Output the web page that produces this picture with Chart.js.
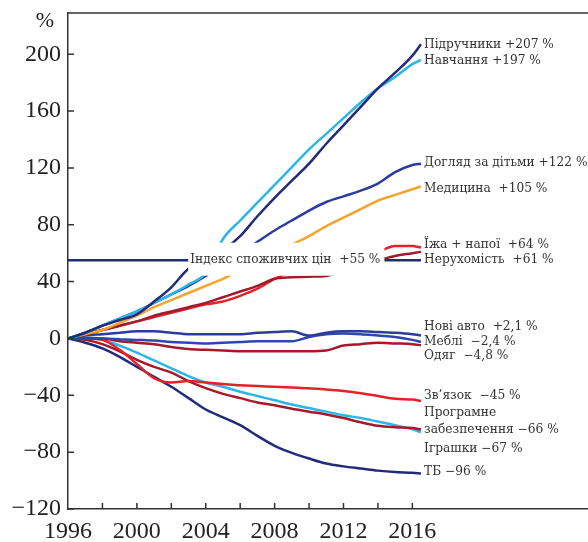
<!DOCTYPE html>
<html><head><meta charset="utf-8">
<script src="https://cdn.jsdelivr.net/npm/chart.js@4/dist/chart.umd.min.js"></script>
<style>html,body{margin:0;padding:0;background:#fff;}#wrap{width:588px;height:542px;position:relative}</style>
</head><body><div id="wrap"><canvas id="c" width="588" height="542"></canvas></div>
<script>
// ---- data ----
const years = [1996,1997,1998,1999,2000,2001,2002,2003,2004,2005,2006,2007,2008,2009,2010,2011,2012,2013,2014,2015,2016,2016.5];
const textbooks = [0,4,9,13,17,26,36,49,55,62,72,86,99,111,123,137,150,163,176,187,199,207];
const tuition   = [0,4,9,14,19,25,31,38,46,70,83,95.5,108,120.5,133,144,155,166,176,184,193,196];
const childcare = [0,4,9,14,19,25,31,37,44,52,60,68,76,83,90,96,100,104,109,117,122,123];
const medical   = [0,3,6,11,16,22,27,32,37,42,48,54,60,66,72,79,85,91,97,101,105,107];
const food      = [0,3,6,9,12,15,18,21,24,26,30,35,42,47,50,54,57,59,61,65,65,64];
const housing   = [0,3,6,9,12,16,19,22,25,29,33,37,42,43,43.5,44,48,52,55,58,60,61];
const cpi       = [55,55,55,55,55,55,55,55,55,55,55,55,55,55,55,55,55,55,55,55,55,55];
const newCars   = [0,2,3,4,5,5,4,3,3,3,3,4,4.5,5,2,4,5,5,4.5,4,3,2.1];
const furniture = [0,0.5,0,-0.5,-1,-1.5,-2.5,-3,-3.5,-3,-2.5,-2,-2,-2,1,3,3.5,3,2,1,-1,-2.4];
const clothing  = [0,0,0,-2,-3,-4,-6,-7.5,-8,-8.5,-9,-9,-9,-9,-9,-8.5,-5,-4,-3,-3.5,-4,-4.8];
const telecom   = [0,0,-1,-8,-18,-28,-31,-30,-31,-32,-33,-33.5,-34,-34.5,-35,-36,-37,-38.5,-40.5,-42.5,-43,-44];
const software  = [0,-1,-4,-9,-15,-20,-24,-30,-35,-39,-42,-45,-47,-49.5,-51.5,-53.5,-56,-59,-61.5,-62.5,-63,-64];
const toys      = [0,0,-1,-5,-10,-15.5,-21,-26.5,-31,-34,-37.5,-40.5,-43.5,-46.5,-49,-51.5,-54,-56,-58.5,-61,-64,-66];
const tv        = [0,-3,-7,-13,-20,-27,-34,-42,-50,-55.5,-61,-68.5,-75.5,-80.5,-84.5,-88,-90,-91.5,-93,-94,-94.5,-95];

const labelTexts = ["Підручники +207 %","Навчання +197 %","Догляд за дітьми +122 %","Медицина  +105 %","Їжа + напої  +64 %","Нерухомість  +61 %","Нові авто  +2,1 %","Меблі  −2,4 %","Одяг  −4,8 %","Зв’язок  −45 %","Програмне","забезпечення −66 %","Іграшки −67 %","ТБ −96 %"];
const labelValues = [206.3,195.3,123.7,105.3,66,55.4,7.9,-2.6,-11.9,-40.5,-52.6,-64.6,-77.4,-94];
const labelYear = 2016.68;
const cpiLabel = "Індекс споживчих цін  +55 %";
const cpiLabelYear = 2003.1;
const cpiLabelValue = 55.4;

const yTicks = [-120,-80,-40,0,40,80,120,160,200];
const xTickLabels = [1996,2000,2004,2008,2012,2016];
const xMinorTicks = [1998,2000,2002,2004,2006,2008,2010,2012,2014,2016];

// ---- styles ----
const NAVY='#222a7c', BLUE='#2b3c9e', CYAN='#2cb5e6', ORANGE='#f2a52c', RED='#e3232a', MAROON='#a31a2c';
const seriesDefs = [
  [cpi,NAVY],[textbooks,NAVY],[tuition,CYAN],[childcare,BLUE],[medical,ORANGE],
  [housing,MAROON],[food,RED],[newCars,BLUE],[furniture,'#2f45b0'],[clothing,MAROON],
  [telecom,RED],[software,MAROON],[toys,CYAN],[tv,NAVY]
];
const LABEL_FONT='12.2px "DejaVu Serif"';

const labelsPlugin = {
  id:'labelsPlugin',
  afterDatasetsDraw(chart){
    const ctx=chart.ctx, xs=chart.scales.x, ys=chart.scales.y, a=chart.chartArea;
    ctx.save();
    ctx.strokeStyle='#333'; ctx.lineWidth=1.5;
    ctx.beginPath(); ctx.moveTo(a.left,a.top); ctx.lineTo(a.right,a.top); ctx.stroke();
    ctx.beginPath();
    yTicks.forEach(v=>{const y=ys.getPixelForValue(v); ctx.moveTo(a.left,y); ctx.lineTo(a.left+6,y);});
    xMinorTicks.forEach(v=>{const x=xs.getPixelForValue(v); ctx.moveTo(x,a.bottom); ctx.lineTo(x,a.bottom-6);});
    ctx.stroke();
    ctx.font=LABEL_FONT;
    ctx.textBaseline='middle';
    const cx=xs.getPixelForValue(cpiLabelYear), cy=ys.getPixelForValue(cpiLabelValue);
    const w=ctx.measureText(cpiLabel).width;
    ctx.fillStyle='#fff';
    ctx.fillRect(cx-2,cy-17,w+6,33);
    ctx.fillStyle='#333';
    ctx.fillText(cpiLabel,cx,cy);
    const lx=xs.getPixelForValue(labelYear);
    labelTexts.forEach((t,i)=>{ctx.fillText(t,lx,ys.getPixelForValue(labelValues[i]));});
    ctx.font='22px "Liberation Serif"';
    ctx.textAlign='right';
    ctx.fillStyle='#222';
    ctx.fillText('%',54,21);
    ctx.restore();
  }
};

new Chart(document.getElementById('c'),{
  type:'line',
  data:{datasets:seriesDefs.map(([arr,col])=>({
    data:years.map((x,i)=>({x:x,y:arr[i]})),
    borderColor:col,borderWidth:2.5,pointRadius:0,cubicInterpolationMode:'monotone',fill:false
  }))},
  options:{
    responsive:false,devicePixelRatio:1,animation:false,
    layout:{padding:{top:13,right:0,left:0,bottom:0}},
    plugins:{legend:{display:false},tooltip:{enabled:false}},
    scales:{
      x:{type:'linear',min:1996,max:2026.2,
        afterBuildTicks:s=>{s.ticks=xTickLabels.map(v=>({value:v}));},
        afterFit:s=>{s.height=33;s.paddingLeft=0;s.paddingRight=0;},
        grid:{display:false,drawTicks:false},
        border:{display:true,color:'#333',width:1.5},
        ticks:{font:{family:'Liberation Serif',size:24},color:'#222',padding:8,maxRotation:0,autoSkip:false,
          callback:v=>String(v)}},
      y:{type:'linear',min:-120,max:229,
        afterBuildTicks:s=>{s.ticks=yTicks.map(v=>({value:v}));},
        afterFit:s=>{s.width=68;s.paddingTop=0;s.paddingBottom=0;},
        grid:{display:false,drawTicks:false},
        border:{display:true,color:'#333',width:1.5},
        ticks:{font:{family:'Liberation Serif',size:24},color:'#222',padding:7,
          callback:v=>String(v).replace('-','−')}}
    }
  },
  plugins:[labelsPlugin]
});
</script></body></html>
